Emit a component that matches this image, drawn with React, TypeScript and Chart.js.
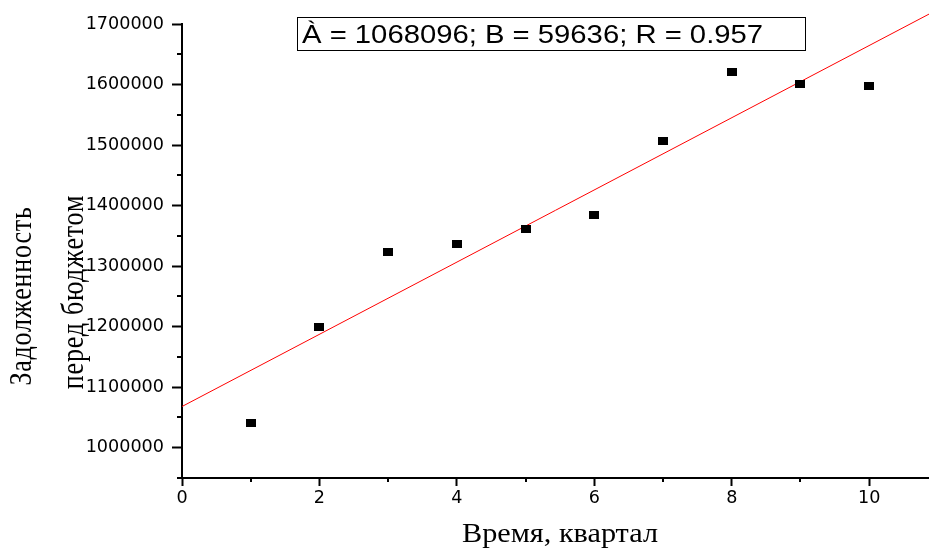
import React, { useEffect, useRef } from 'react';
import { Chart, registerables } from 'chart.js';

Chart.register(...registerables);

// ---- data ----
const quarters = [1, 2, 3, 4, 5, 6, 7, 8, 9, 10];
const debt = [1041000, 1200000, 1324000, 1336000, 1361000, 1385000, 1507000, 1621000, 1601000, 1598000];
const fitA = 1068096;
const fitB = 59636;
const fitR = 0.957;
const fitXRange = [0, 10.87];
const xMajorTicks = [0, 2, 4, 6, 8, 10];
const xMinorTicks = [1, 3, 5, 7, 9];
const yMajorTicks = [1000000, 1100000, 1200000, 1300000, 1400000, 1500000, 1600000, 1700000];
const yMinorTicks = [950000, 1050000, 1150000, 1250000, 1350000, 1450000, 1550000, 1650000];
const xTitle = 'Время, квартал';
const yTitleLines = ['Задолженность', 'перед бюджетом'];
const fitLabel = `À = ${fitA}; B = ${fitB}; R = ${fitR}`;

const X_MIN = 0;
const X_MAX = 10.87;
const Y_MIN = 950000;
const Y_MAX = 1700000;

const decorPlugin = {
  id: 'decor',
  afterDraw(chart: any) {
    const ctx = chart.ctx as CanvasRenderingContext2D;
    const xs = chart.scales.x;
    const ys = chart.scales.y;
    const ca = chart.chartArea;
    ctx.save();
    // minor ticks
    ctx.strokeStyle = '#000';
    ctx.lineWidth = 2;
    ctx.beginPath();
    for (const v of yMinorTicks) {
      const py = Math.round(ys.getPixelForValue(v));
      ctx.moveTo(ca.left - 5, py);
      ctx.lineTo(ca.left, py);
    }
    for (const v of xMinorTicks) {
      const px = Math.round(xs.getPixelForValue(v));
      ctx.moveTo(px, ca.bottom);
      ctx.lineTo(px, ca.bottom + 4);
    }
    ctx.stroke();

    // fit label box
    ctx.fillStyle = '#fff';
    ctx.fillRect(297, 17, 508, 33);
    ctx.lineWidth = 1;
    ctx.strokeRect(297.5, 17.5, 508, 33);
    ctx.fillStyle = '#000';
    ctx.font = '25px "Liberation Sans"';
    ctx.textAlign = 'left';
    ctx.textBaseline = 'alphabetic';
    ctx.save();
    ctx.translate(302, 43);
    ctx.scale(1.17, 1);
    ctx.fillText(fitLabel, 0, 0);
    ctx.restore();

    // x title
    ctx.font = '27px "Liberation Serif"';
    ctx.textAlign = 'center';
    ctx.save();
    ctx.translate(560, 542);
    ctx.scale(1.12, 1);
    ctx.fillText(xTitle, 0, 0);
    ctx.restore();

    // y title (rotated)
    ctx.font = '26px "Liberation Serif"';
    (ctx as any).letterSpacing = '0.8px';
    ctx.save();
    ctx.translate(31, 296);
    ctx.rotate(-Math.PI / 2);
    ctx.scale(1, 1.2);
    ctx.fillText(yTitleLines[0], 0, 0);
    ctx.restore();
    ctx.save();
    ctx.translate(83, 292);
    ctx.rotate(-Math.PI / 2);
    ctx.scale(1, 1.2);
    ctx.fillText(yTitleLines[1], 0, 0);
    ctx.restore();

    ctx.restore();
  },
};

export default function App() {
  const canvasRef = useRef<HTMLCanvasElement | null>(null);

  useEffect(() => {
    const canvas = canvasRef.current;
    if (!canvas) return;
    const sq = document.createElement('canvas');
    sq.width = 10;
    sq.height = 8;
    const sctx = sq.getContext('2d')!;
    sctx.fillStyle = '#000';
    sctx.fillRect(0, 0, 10, 8);

    const tickFont = { family: 'DejaVu Sans', size: 17.6 };

    const chart = new Chart(canvas, {
      type: 'scatter',
      data: {
        datasets: [
          {
            label: 'data',
            data: quarters.map((q, i) => ({ x: q, y: debt[i] })),
            pointStyle: sq as any,
            pointRadius: 5,
            backgroundColor: '#000',
            borderColor: '#000',
            order: 0,
          },
          {
            type: 'line',
            label: 'fit',
            data: fitXRange.map((x) => ({ x, y: fitA + fitB * x })),
            borderColor: '#ff0000',
            borderWidth: 1,
            pointRadius: 0,
            showLine: true,
            clip: false as any,
            order: 1,
          } as any,
        ],
      },
      options: {
        responsive: false,
        animation: false,
        layout: { autoPadding: false, padding: { top: 24, right: 0, left: 0, bottom: 0 } },
        plugins: {
          legend: { display: false },
          tooltip: { enabled: false },
          title: { display: false },
        },
        scales: {
          x: {
            type: 'linear',
            min: X_MIN,
            max: X_MAX,
            afterBuildTicks: (s: any) => {
              s.ticks = xMajorTicks.map((v) => ({ value: v }));
            },
            afterFit: (s: any) => {
              s.height = 70;
            },
            ticks: {
              color: '#000',
              font: tickFont,
              padding: 2,
              maxRotation: 0,
              autoSkip: false,
              callback: (v: any) => String(v),
            },
            grid: {
              display: true,
              drawOnChartArea: false,
              drawTicks: true,
              tickLength: 8,
              tickColor: '#000',
              tickWidth: 2,
            },
            border: { display: true, color: '#000', width: 2 },
          },
          y: {
            type: 'linear',
            min: Y_MIN,
            max: Y_MAX,
            afterBuildTicks: (s: any) => {
              s.ticks = yMajorTicks.map((v) => ({ value: v }));
            },
            afterFit: (s: any) => {
              s.width = 182;
            },
            ticks: {
              color: '#000',
              font: tickFont,
              padding: 8,
              autoSkip: false,
              callback: (v: any) => String(v),
            },
            grid: {
              display: true,
              drawOnChartArea: false,
              drawTicks: true,
              tickLength: 10,
              tickColor: '#000',
              tickWidth: 2,
            },
            border: { display: true, color: '#000', width: 2 },
          },
        },
      },
      plugins: [decorPlugin],
    });
    return () => chart.destroy();
  }, []);

  return (
    <div style={{ position: 'fixed', left: 0, top: 0, width: 929, height: 548, background: '#fff' }}>
      <canvas ref={canvasRef} width={929} height={548} style={{ display: 'block' }} />
    </div>
  );
}
